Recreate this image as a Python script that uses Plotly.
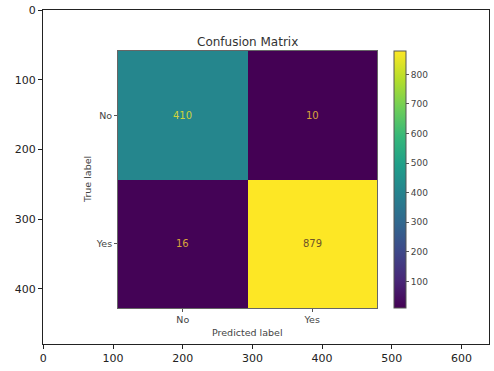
import plotly.graph_objects as go

labels = ["No", "Yes"]
matrix = [[410, 10], [16, 879]]
text_colors = [["#cfd33c", "#d8a43a"], ["#d8a43a", "#6e5428"]]
cbar_ticks = [100, 200, 300, 400, 500, 600, 700, 800]
outer_x_ticks = [0, 100, 200, 300, 400, 500, 600]
outer_y_ticks = [0, 100, 200, 300, 400]
title_text = "Confusion Matrix"
xlabel = "Predicted label"
ylabel = "True label"

W, H = 494, 371
L, R, T, B = 43, 5, 10, 27
pw, ph = W - L - R, H - T - B

def px(x):
    return (x - L) / pw

def py(y):
    return (H - B - y) / ph

font = "DejaVu Sans"
fig = go.Figure()

# outer (image) axes
fig.add_trace(go.Scatter(x=[0], y=[0], mode="markers", marker=dict(opacity=0),
                         hoverinfo="skip", showlegend=False, xaxis="x", yaxis="y"))

fig.add_trace(go.Heatmap(
    z=matrix, x=labels, y=labels, colorscale="Viridis",
    zmin=10, zmax=879, xaxis="x2", yaxis="y2", hoverinfo="skip",
    colorbar=dict(
        thickness=12, thicknessmode="pixels",
        x=px(394), xanchor="left", y=py(179.5), yanchor="middle",
        len=(308 - 51) / ph, lenmode="fraction",
        xpad=0, ypad=0, outlinewidth=1, outlinecolor="#555",
        tickvals=cbar_ticks, ticks="outside", ticklen=3, tickcolor="#555",
        tickfont=dict(size=9, color="#444", family=font),
    ),
))

annotations = []
for i, row in enumerate(matrix):
    for j, v in enumerate(row):
        annotations.append(dict(
            x=labels[j], y=labels[i], xref="x2", yref="y2", text=str(v),
            showarrow=False, font=dict(size=10, color=text_colors[i][j], family=font)))

annotations.append(dict(x=px(247), y=py(42), xref="paper", yref="paper", text=title_text,
                        showarrow=False, font=dict(size=12, color="#333", family=font),
                        xanchor="center", yanchor="middle"))
annotations.append(dict(x=px(247), y=py(332), xref="paper", yref="paper", text=xlabel,
                        showarrow=False, font=dict(size=9.5, color="#444", family=font),
                        xanchor="center", yanchor="middle"))
annotations.append(dict(x=px(87), y=py(180), xref="paper", yref="paper", text=ylabel,
                        showarrow=False, textangle=-90,
                        font=dict(size=9.5, color="#444", family=font),
                        xanchor="center", yanchor="middle"))

fig.update_layout(
    width=W, height=H, margin=dict(l=L, r=R, t=T, b=B),
    paper_bgcolor="white", plot_bgcolor="white",
    font=dict(family=font),
    showlegend=False,
    xaxis=dict(range=[-0.5, 639.5], tickvals=outer_x_ticks, ticks="outside", ticklen=4,
               tickcolor="#222", showline=True, mirror=True, linecolor="#222", linewidth=1,
               showgrid=False, zeroline=False, tickfont=dict(size=11, color="#222")),
    yaxis=dict(range=[479.5, -0.5], tickvals=outer_y_ticks, ticks="outside", ticklen=4,
               tickcolor="#222", showline=True, mirror=True, linecolor="#222", linewidth=1,
               showgrid=False, zeroline=False, tickfont=dict(size=11, color="#222")),
    xaxis2=dict(domain=[px(118), px(377)], anchor="y2", ticks="outside", ticklen=3,
                tickcolor="#555", showline=True, mirror=True, linecolor="#666",
                showgrid=False, zeroline=False, tickfont=dict(size=9.5, color="#444")),
    yaxis2=dict(domain=[py(308), py(51)], anchor="x2", autorange="reversed",
                ticks="outside", ticklen=3, tickcolor="#555", showline=True, mirror=True,
                linecolor="#666", showgrid=False, zeroline=False,
                tickfont=dict(size=9.5, color="#444")),
    annotations=annotations,
)

fig.write_html("out.html")
